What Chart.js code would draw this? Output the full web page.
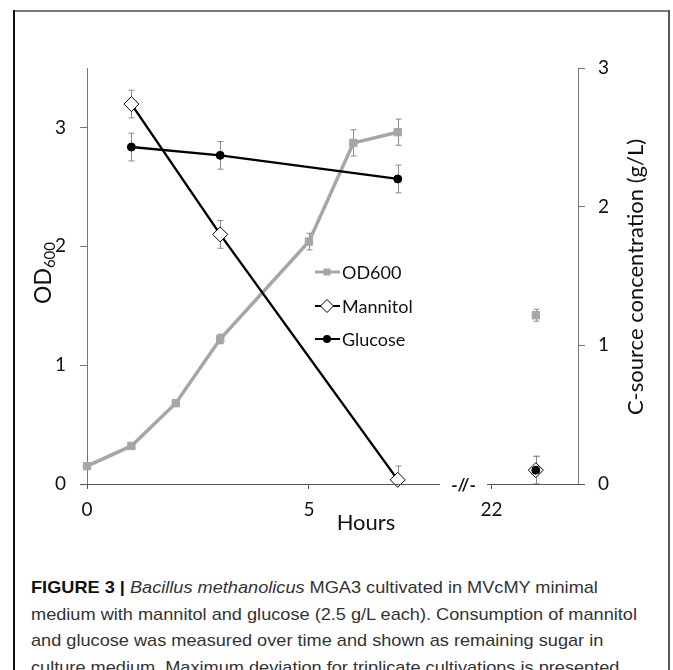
<!DOCTYPE html>
<html><head><meta charset="utf-8">
<script src="https://cdn.jsdelivr.net/npm/chart.js@4.4.1/dist/chart.umd.min.js"></script>
<style>
html,body{margin:0;padding:0;background:#fff;}
#wrap{position:relative;width:673px;height:670px;overflow:hidden;background:#fff;}
#c{position:absolute;left:0;top:0;}
.ft{position:absolute;left:14px;top:10px;width:655px;height:2px;background:#7a7a7a;}
.fl{position:absolute;left:13px;top:10px;width:2px;height:670px;background:#111;}
.fr{position:absolute;left:668px;top:10px;width:2px;height:670px;background:#555;}
#cap{position:absolute;left:31px;top:575px;font-family:"Liberation Sans",Arial,sans-serif;font-size:17px;line-height:26.5px;color:#333;white-space:nowrap;transform-origin:0 0;}
#cap b{color:#111;}
</style></head>
<body><div id="wrap">
<canvas id="c" width="673" height="560"></canvas>
<div class="ft"></div><div class="fl"></div><div class="fr"></div>
<div id="cap">
<div><b>FIGURE 3 |</b> <i>Bacillus methanolicus</i> MGA3 cultivated in MVcMY minimal</div>
<div id="l2">medium with mannitol and glucose (2.5 g/L each). Consumption of mannitol</div>
<div>and glucose was measured over time and shown as remaining sugar in</div>
<div>culture medium. Maximum deviation for triplicate cultivations is presented.</div>
</div>
</div>
<script>
// ---- data ----
const hours = [0, 1, 2, 3, 5, 6, 7, 23];
const od600 = [0.15, 0.32, 0.68, 1.22, 2.04, 2.87, 2.96, 1.42];
const od600Err = [0, 0.01, 0.02, 0.04, 0.07, 0.11, 0.11, 0.05];
const sugarHours = [1, 3, 7, 23];
const mannitol = [2.74, 1.80, 0.03, 0.10];
const mannitolErr = [0.10, 0.10, 0.10, 0.10];
const glucose = [2.43, 2.37, 2.20, 0.10];
const glucoseErr = [0.10, 0.10, 0.10, 0.10];
const xTicks = [0, 5, 22];
const odTicks = [0, 1, 2, 3];
const concTicks = [0, 1, 2, 3];
const axisBreak = [7.95, 21.9];   // hours where the time axis is broken
const seriesNames = ['OD600', 'Mannitol', 'Glucose'];

const GAP = 1.06; // width of the break, in hour-units
class BrokenLinearScale extends Chart.LinearScale {
  compress(v) { return v <= axisBreak[0] ? v : axisBreak[0] + GAP + (v - axisBreak[1]); }
  getPixelForValue(v) {
    if (v === null || v === undefined || isNaN(v)) return NaN;
    const lo = this.compress(this.min), hi = this.compress(this.max);
    return this.getPixelForDecimal((this.compress(v) - lo) / (hi - lo));
  }
  getValueForPixel(p) {
    const lo = this.compress(this.min), hi = this.compress(this.max);
    const c = lo + this.getDecimalForPixel(p) * (hi - lo);
    return c <= axisBreak[0] ? c : c - axisBreak[0] - GAP + axisBreak[1];
  }
}
BrokenLinearScale.id = 'brokenLinear';
BrokenLinearScale.defaults = Chart.LinearScale.defaults;
Chart.register(BrokenLinearScale);

const FONT = 'Lato, "Open Sans", sans-serif';
const OD_COLOR = '#a6a6a6';
const pts = (xs, ys) => xs.map((x, i) => ({x, y: ys[i]}));
const breakSeg = col => ({ borderColor: ctx => ctx.p1.parsed.x > axisBreak[0] ? 'rgba(0,0,0,0)' : col });

const errorBars = {
  id: 'errorBars',
  beforeDatasetsDraw(chart) {
    const {ctx, chartArea} = chart;
    const errs = [od600Err, mannitolErr, glucoseErr];
    ctx.save();
    ctx.beginPath();
    ctx.rect(chartArea.left - 10, chartArea.top - 20, chartArea.right - chartArea.left + 20, chartArea.bottom - chartArea.top + 20);
    ctx.clip();
    ctx.strokeStyle = '#8a8a8a';
    ctx.lineWidth = 1;
    chart.data.datasets.forEach((ds, di) => {
      const ys = chart.scales[ds.yAxisID];
      const xs = chart.scales.x;
      ds.data.forEach((p, i) => {
        const e = errs[di][i];
        if (!e) return;
        const px = Math.round(xs.getPixelForValue(p.x)) + 0.5;
        const top = ys.getPixelForValue(p.y + e);
        const bot = Math.min(ys.getPixelForValue(p.y - e), chartArea.bottom);
        ctx.beginPath();
        ctx.moveTo(px, top); ctx.lineTo(px, bot);
        ctx.moveTo(px - 3, top); ctx.lineTo(px + 3, top);
        if (ys.getPixelForValue(p.y - e) <= chartArea.bottom) { ctx.moveTo(px - 3, bot); ctx.lineTo(px + 3, bot); }
        ctx.stroke();
      });
    });
    ctx.restore();
  }
};

const decorations = {
  id: 'decorations',
  afterDraw(chart) {
    const {ctx, chartArea} = chart;
    const x = chart.scales.x;
    const yb = chartArea.bottom + 0.5;
    ctx.save();
    // broken x axis line
    ctx.strokeStyle = '#555'; ctx.lineWidth = 1;
    ctx.beginPath();
    ctx.moveTo(x.getPixelForValue(0) - 7, yb); ctx.lineTo(x.getPixelForValue(axisBreak[0]), yb);
    ctx.moveTo(x.getPixelForValue(axisBreak[1]), yb); ctx.lineTo(x.getPixelForValue(x.max) + 7, yb);
    ctx.stroke();
    ctx.fillStyle = '#111';
    ctx.font = 'bold 17px ' + FONT;
    ctx.textAlign = 'center'; ctx.textBaseline = 'middle';
    const mid = (x.getPixelForValue(axisBreak[0]) + x.getPixelForValue(axisBreak[1])) / 2;
    ctx.fillText('-//-', mid, yb + 1);
    // axis titles
    ctx.font = '22px ' + FONT;
    ctx.fillText('Hours', 366, 523);
    ctx.save();
    ctx.translate(636, 277); ctx.rotate(-Math.PI / 2);
    ctx.fillText('C-source concentration (g/L)', 0, 0);
    ctx.restore();
    ctx.save();
    ctx.translate(44, 273); ctx.rotate(-Math.PI / 2);
    ctx.font = '23px ' + FONT;
    const w1 = ctx.measureText('OD').width;
    ctx.font = '15px ' + FONT;
    const w2 = ctx.measureText('600').width;
    const start = -(w1 + w2) / 2;
    ctx.textAlign = 'left';
    ctx.font = '23px ' + FONT;
    ctx.fillText('OD', start, 0);
    ctx.font = '15px ' + FONT;
    ctx.fillText('600', start + w1, 6);
    ctx.restore();
    // legend
    const rows = [272, 306, 339];
    ctx.font = '18px ' + FONT;
    ctx.textAlign = 'left';
    rows.forEach((ry, i) => {
      const cx = 327;
      ctx.beginPath();
      ctx.strokeStyle = i === 0 ? OD_COLOR : '#000';
      ctx.lineWidth = i === 0 ? 3 : 2;
      ctx.moveTo(315, ry); ctx.lineTo(340, ry); ctx.stroke();
      if (i === 0) { ctx.fillStyle = OD_COLOR; ctx.fillRect(cx - 3.5, ry - 3.5, 7, 7); }
      else if (i === 1) {
        ctx.beginPath(); ctx.moveTo(cx - 6.5, ry); ctx.lineTo(cx, ry - 6.5); ctx.lineTo(cx + 6.5, ry); ctx.lineTo(cx, ry + 6.5); ctx.closePath();
        ctx.fillStyle = '#fff'; ctx.fill(); ctx.lineWidth = 1; ctx.strokeStyle = '#000'; ctx.stroke();
      } else { ctx.beginPath(); ctx.arc(cx, ry, 4, 0, Math.PI * 2); ctx.fillStyle = '#000'; ctx.fill(); }
      ctx.fillStyle = '#111';
      ctx.fillText(seriesNames[i], 342, ry + 1);
    });
    ctx.restore();
  }
};

const tickFont = {family: FONT, size: 19};
new Chart(document.getElementById('c'), {
  type: 'line',
  data: {
    datasets: [
      { label: seriesNames[0], data: pts(hours, od600), yAxisID: 'yL', order: 2, clip: 12,
        borderColor: OD_COLOR, borderWidth: 3.5, segment: breakSeg(OD_COLOR),
        pointStyle: 'rect', pointRadius: 5.2, pointBackgroundColor: OD_COLOR, pointBorderColor: OD_COLOR, pointBorderWidth: 1 },
      { label: seriesNames[1], data: pts(sugarHours, mannitol), yAxisID: 'yR', order: 1, clip: 12,
        borderColor: '#000', borderWidth: 2.4, segment: breakSeg('#000'),
        pointStyle: 'rectRot', pointRadius: 7.5, pointBackgroundColor: '#fff', pointBorderColor: '#000', pointBorderWidth: 1 },
      { label: seriesNames[2], data: pts(sugarHours, glucose), yAxisID: 'yR', order: 0, clip: 12,
        borderColor: '#000', borderWidth: 2.4, segment: breakSeg('#000'),
        pointStyle: 'circle', pointRadius: 4, pointBackgroundColor: '#000', pointBorderColor: '#000', pointBorderWidth: 1 }
    ]
  },
  options: {
    responsive: false, animation: false, devicePixelRatio: 1, events: [],
    layout: { padding: { top: 68, left: 0, right: 0, bottom: 0 } },
    plugins: { legend: { display: false }, tooltip: { enabled: false } },
    elements: { line: { tension: 0 } },
    scales: {
      x: { type: 'brokenLinear', min: 0, max: 23.95, position: 'bottom',
        afterBuildTicks: s => { s.ticks = xTicks.map(v => ({value: v})); },
        afterFit: s => { s.height = 76; },
        grid: { drawOnChartArea: false, drawTicks: true, tickLength: 5, color: '#555' },
        border: { display: false },
        ticks: { padding: 9, color: '#111', font: tickFont, maxRotation: 0, autoSkip: false } },
      yL: { type: 'linear', position: 'left', min: 0, max: 3.5,
        afterBuildTicks: s => { s.ticks = odTicks.map(v => ({value: v})); },
        afterFit: s => { s.width = 87; },
        grid: { drawOnChartArea: false, tickLength: 7, color: '#777' },
        border: { display: true, color: '#777' },
        ticks: { padding: 14, color: '#111', font: tickFont } },
      yR: { type: 'linear', position: 'right', min: 0, max: 3,
        afterBuildTicks: s => { s.ticks = concTicks.map(v => ({value: v})); },
        afterFit: s => { s.width = 95; },
        grid: { drawOnChartArea: false, tickLength: 7, color: '#777' },
        border: { display: true, color: '#777' },
        ticks: { padding: 13, color: '#111', font: tickFont } }
    }
  },
  plugins: [errorBars, decorations]
});

// fit caption width to the reference line width
const l2 = document.getElementById('l2');
const range = document.createRange(); range.selectNodeContents(l2);
const w = range.getBoundingClientRect().width;
document.getElementById('cap').style.transform = 'scaleX(' + (606 / w) + ')';
</script>
</body></html>
